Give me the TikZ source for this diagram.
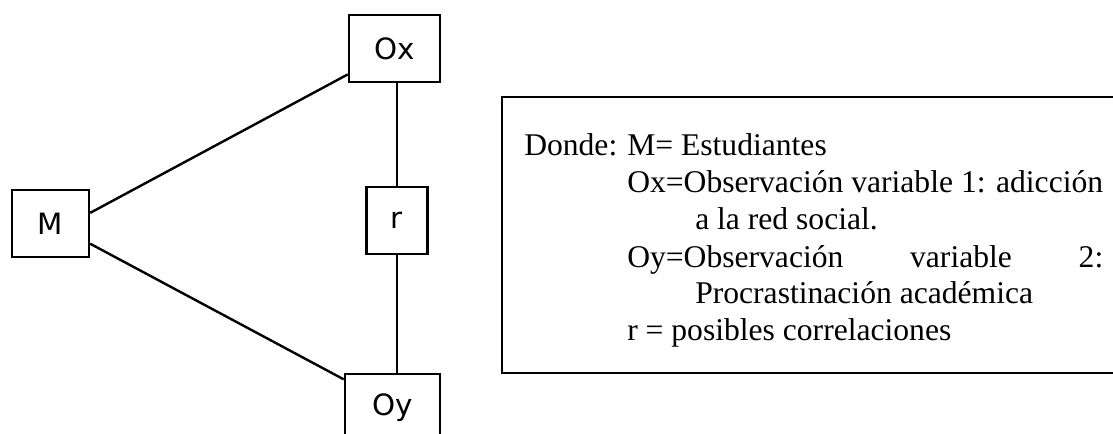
\documentclass[tikz,border=0pt]{standalone}
\usepackage{fontspec}
\setmainfont{Liberation Serif}
\newfontfamily\boxfont{DejaVu Sans}

\begin{document}
\begin{tikzpicture}[x=0.75pt,y=-0.75pt,
  box/.style={draw,line width=1.8pt,inner sep=0pt,minimum height=50.25pt,
    font=\boxfont\fontsize{22}{26}\selectfont},
  link/.style={line width=1.8pt},
  txt/.style={anchor=base west,inner sep=0pt,font=\fontsize{23.7}{28}\selectfont}]
  \clip (0,0) rectangle (1113,433);
  \useasboundingbox (0,0) rectangle (1113,433);
  \node[box,minimum width=57.75pt] (M) at (50.5,223.5) {M};
  \node[box,minimum width=68.25pt] (Ox) at (394.5,48.5) {Ox};
  \node[box,minimum width=45.75pt] (r) at (397,220.5) {r};
  \node[box,minimum width=71.25pt] (Oy) at (392.5,407.5) {Oy};
  \draw[link] (M.15) -- (Ox.209);
  \draw[link] (M.-27) -- (Oy.150);
  \draw[link] (r.north |- Ox.south) -- (r.north);
  \draw[link] (r.south) -- (r.south |- Oy.north);
  \draw[line width=1.3pt] (502,97) rectangle (1125,373);
  \node[txt] (l0) at (524,155) {Donde:};
  \node[txt] (l1) at (627,155) {M= Estudiantes};
  \node[txt] (l2) at (627,192) {Ox=Observación variable 1: adicción};
  \node[txt] (l3) at (695,229) {a la red social.};
  \node[txt] (l4) at (627,267) {\hbox to 357pt{Oy=Observación\hfill variable\hfill 2:}};
  \node[txt] (l5) at (695,303) {Procrastinación académica};
  \node[txt] (l6) at (627,340) {r = posibles correlaciones};
\end{tikzpicture}
\end{document}
